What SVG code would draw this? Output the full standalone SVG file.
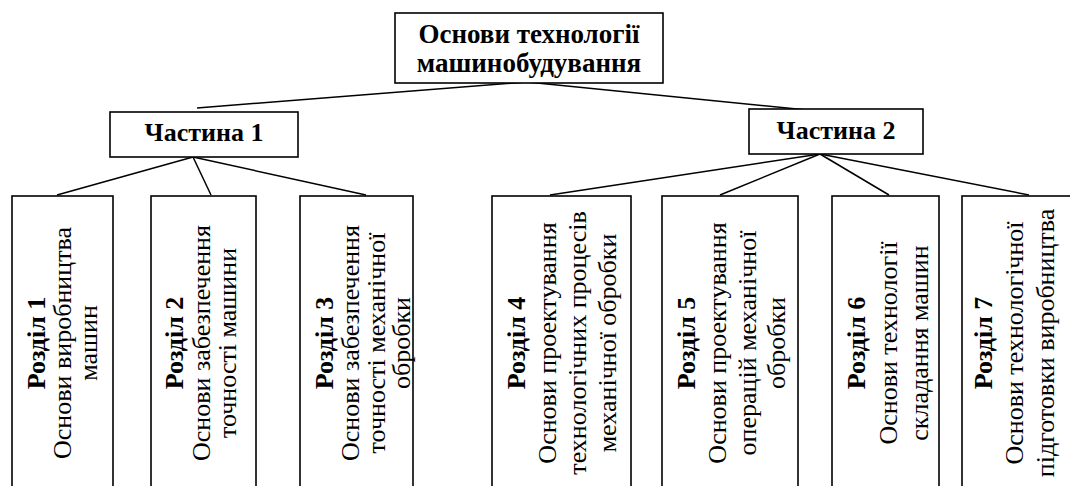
<svg xmlns="http://www.w3.org/2000/svg" width="1070" height="486" viewBox="0 0 1070 486">
<style>
.box{fill:#fff;stroke:#000;stroke-width:1.6}
.ln{stroke:#000;stroke-width:1.5;fill:none}
.t{font-family:"Liberation Serif","Times New Roman",serif;font-size:26px;fill:#000;text-anchor:middle}
.b{font-weight:bold}
.h{font-size:27px}
</style>
<rect width="1070" height="486" fill="#fff"/>
<g id="connectors">
<line class="ln" x1="527" y1="82" x2="197" y2="108"/>
<line class="ln" x1="527" y1="82" x2="827" y2="112"/>
<line class="ln" x1="193" y1="157" x2="57" y2="195"/>
<line class="ln" x1="193" y1="157" x2="211" y2="195"/>
<line class="ln" x1="193" y1="157" x2="366" y2="195"/>
<line class="ln" x1="820" y1="154" x2="550" y2="195"/>
<line class="ln" x1="820" y1="154" x2="720" y2="195"/>
<line class="ln" x1="820" y1="154" x2="889" y2="195"/>
<line class="ln" x1="820" y1="154" x2="1029" y2="195"/>
</g>
<g id="root">
<rect class="box" x="395" y="13" width="268" height="70"/>
<text class="t b h" x="529" y="43">Основи технології</text>
<text class="t b h" x="529" y="72">машинобудування</text>
</g>
<g id="part1">
<rect class="box" x="110" y="112" width="188" height="45"/>
<text class="t b" x="204" y="141">Частина 1</text>
</g>
<g id="part2">
<rect class="box" x="749" y="109" width="174" height="45"/>
<text class="t b" x="836" y="139">Частина 2</text>
</g>
<g id="s1">
<rect class="box" x="12" y="196" width="101" height="300"/>
<g transform="translate(0,343) rotate(-90)">
<text class="t b" x="0" y="45">Розділ 1</text>
<text class="t" x="0" y="71">Основи виробництва</text>
<text class="t" x="0" y="97">машин</text>
</g>
</g>
<g id="s2">
<rect class="box" x="151" y="196" width="105" height="300"/>
<g transform="translate(0,343) rotate(-90)">
<text class="t b" x="0" y="183">Розділ 2</text>
<text class="t" x="0" y="210">Основи забезпечення</text>
<text class="t" x="0" y="236">точності машини</text>
</g>
</g>
<g id="s3">
<rect class="box" x="300" y="196" width="113" height="300"/>
<g transform="translate(0,343) rotate(-90)">
<text class="t b" x="0" y="333">Розділ 3</text>
<text class="t" x="0" y="359">Основи забезпечення</text>
<text class="t" x="0" y="385">точності механічної</text>
<text class="t" x="0" y="410">обробки</text>
</g>
</g>
<g id="s4">
<rect class="box" x="492" y="196" width="139" height="300"/>
<g transform="translate(0,343) rotate(-90)">
<text class="t b" x="0" y="525">Розділ 4</text>
<text class="t" x="0" y="556">Основи проектування</text>
<text class="t" x="0" y="586">технологічних процесів</text>
<text class="t" x="0" y="616">механічної обробки</text>
</g>
</g>
<g id="s5">
<rect class="box" x="662" y="196" width="136" height="300"/>
<g transform="translate(0,343) rotate(-90)">
<text class="t b" x="0" y="695">Розділ 5</text>
<text class="t" x="0" y="726">Основи проектування</text>
<text class="t" x="0" y="756">операцій механічної</text>
<text class="t" x="0" y="785">обробки</text>
</g>
</g>
<g id="s6">
<rect class="box" x="832" y="196" width="107" height="300"/>
<g transform="translate(0,343) rotate(-90)">
<text class="t b" x="0" y="865">Розділ 6</text>
<text class="t" x="0" y="897">Основи технології</text>
<text class="t" x="0" y="928">складання машин</text>
</g>
</g>
<g id="s7">
<rect class="box" x="962" y="196" width="130" height="300"/>
<g transform="translate(0,343) rotate(-90)">
<text class="t b" x="0" y="992">Розділ 7</text>
<text class="t" x="0" y="1023">Основи технологічної</text>
<text class="t" x="0" y="1054">підготовки виробництва</text>
</g>
</g>
</svg>
